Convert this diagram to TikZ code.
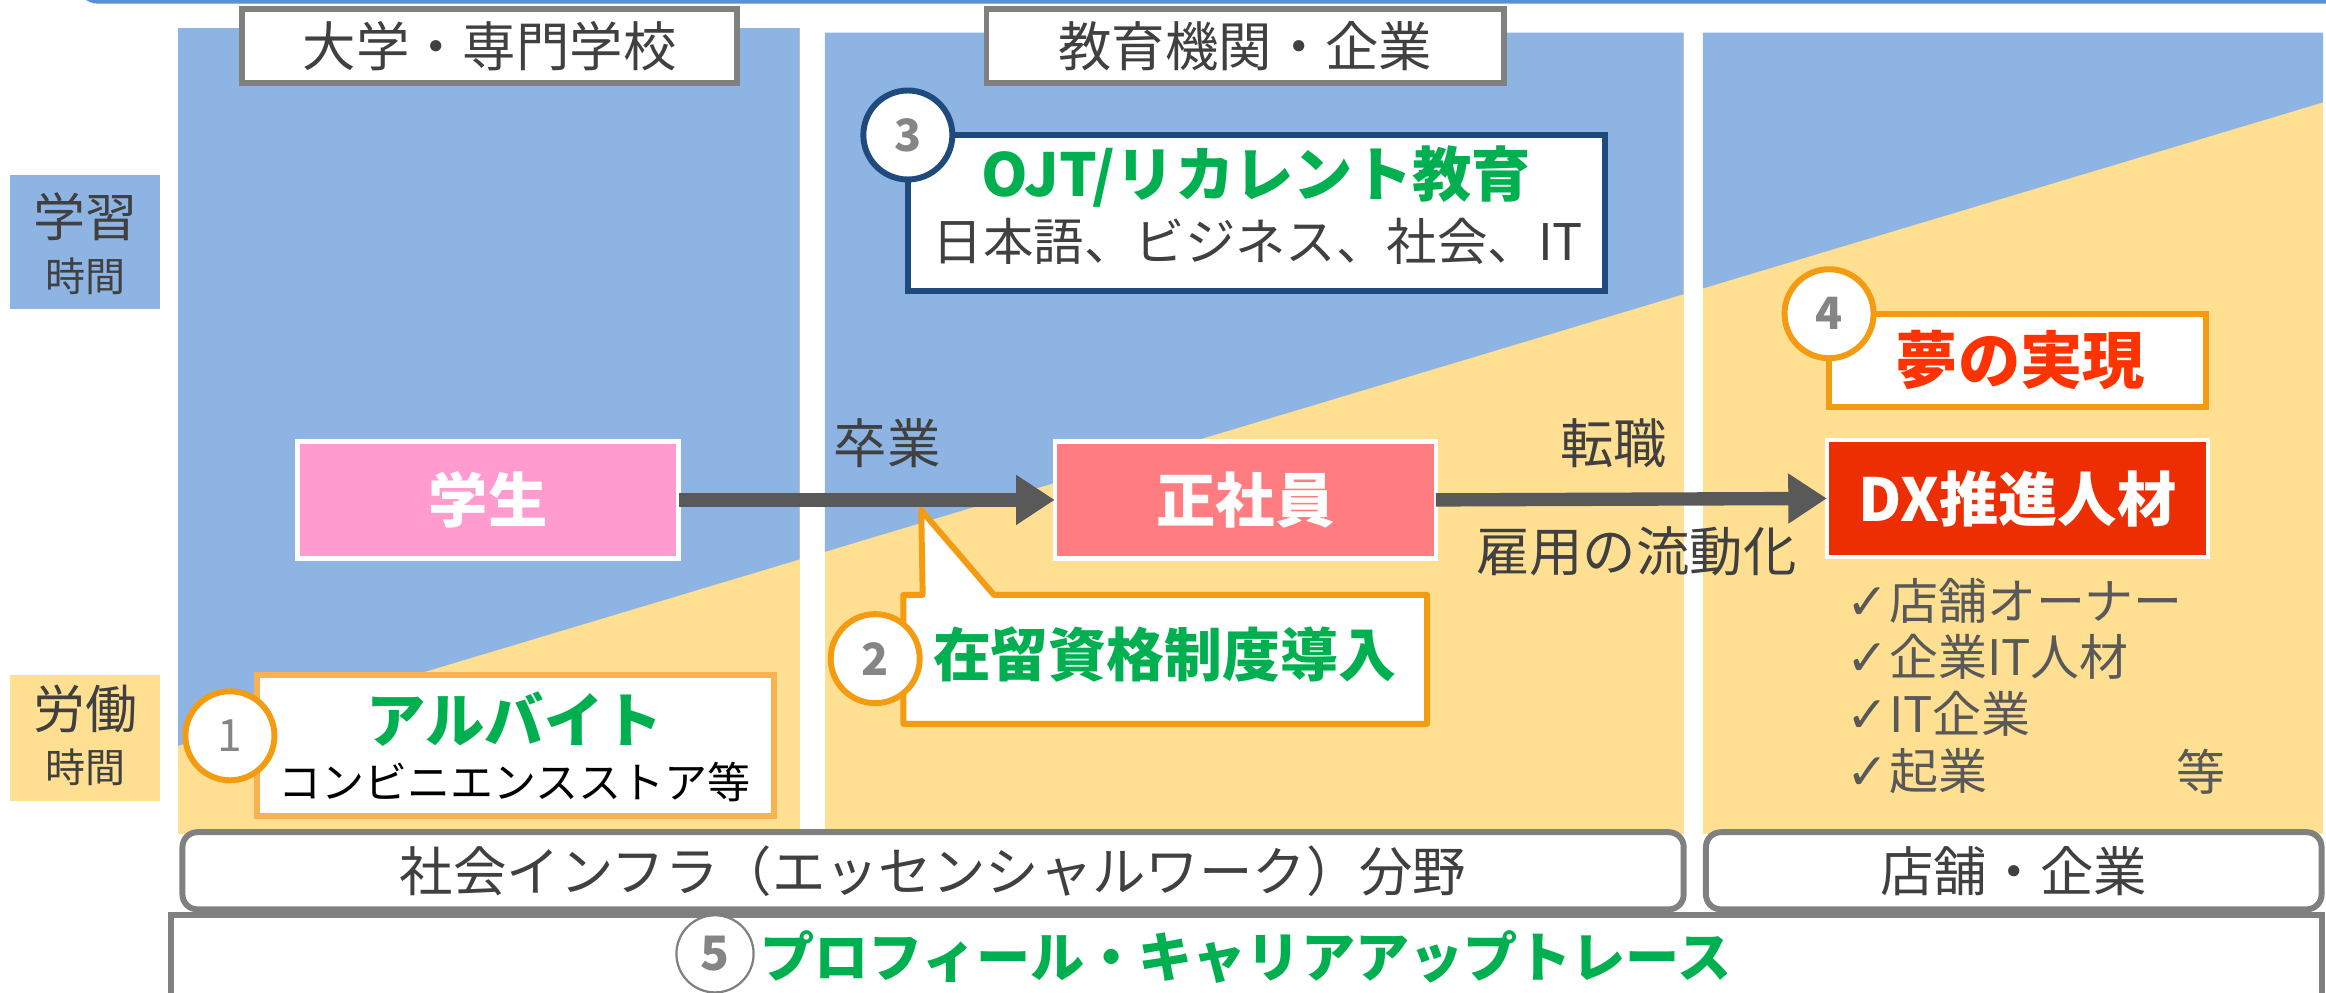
\documentclass[tikz,border=0pt]{standalone}
\usepackage{fontspec}
\setmainfont{Noto Sans CJK JP}
\newfontfamily\symfont{DejaVu Sans}
\usetikzlibrary{arrows.meta}
\definecolor{blu}{HTML}{8EB4E3}
\definecolor{yel}{HTML}{FFDF91}
\definecolor{topblue}{HTML}{5B8FD9}
\definecolor{hgray}{HTML}{808080}
\definecolor{tgray}{HTML}{404040}
\definecolor{cgray}{HTML}{858585}
\definecolor{lgreen}{HTML}{00B050}
\definecolor{orng}{HTML}{F39C12}
\definecolor{lorng}{HTML}{F8B24F}
\definecolor{dblue}{HTML}{1F4A7E}
\definecolor{pinkf}{HTML}{FF9BCF}
\definecolor{salmon}{HTML}{FF7C80}
\definecolor{dxred}{HTML}{EC2E02}
\definecolor{redtxt}{HTML}{FF3300}
\definecolor{agray}{HTML}{595959}
\newcommand{\fsz}[1]{\fontsize{#1}{#1}\selectfont}
\begin{document}
\begin{tikzpicture}[x=1pt,y=-1pt,
  every node/.style={inner sep=0pt, outer sep=0pt},
  hdr/.style={draw=hgray, line width=4pt, fill=white, text=tgray, font=\fsz{36}},
  sidebox/.style={minimum width=101pt},
  mainbox/.style={draw=white, line width=3pt, minimum width=257pt, minimum height=79pt, text=white, font={\bfseries\fsz{40}}},
  numcirc/.style={circle, line width=4pt, fill=white, minimum size=60pt, text=cgray, font={\bfseries\fsz{30}}},
  gtitle/.style={text=lgreen, font={\bfseries\fsz{40}}},
  lab/.style={text=tgray, font=\fsz{36}},
  chk/.style={anchor=west, text=agray, font=\fsz{33}},
  arr/.style={draw=agray, line width=9pt, -{Triangle[length=26pt, width=32pt]}},
  bottombox/.style={draw=hgray, line width=4pt, fill=white, rounded corners=10pt, text=tgray, font=\fsz{36}}
]
\useasboundingbox (0,0) rectangle (1568,669);
\clip (0,0) rectangle (1568,669);

% top strip
\fill[topblue, rounded corners=14pt] (52,-60) rectangle (1640,2.5);

% columns: yellow base and blue upper part
\fill[yel] (120,19) rectangle (539,562);
\fill[blu] (120,19) -- (539,19) -- (539,377.1) -- (120,502.8) -- cycle;
\fill[yel] (556,22) rectangle (1135,562);
\fill[blu] (556,22) -- (1135,22) -- (1135,198.3) -- (556,372) -- cycle;
\fill[yel] (1148,22) rectangle (1566,562);
\fill[blu] (1148,22) -- (1566,22) -- (1566,69) -- (1148,194.4) -- cycle;

% headers
\node[hdr, minimum width=334pt, minimum height=50pt] (h1) at (330,31) {大学・専門学校};
\node[hdr, minimum width=349pt, minimum height=50pt] (h2) at (839.5,31) {教育機関・企業};

% side labels
\node[sidebox, fill=blu, minimum height=90pt] (sl) at (57.5,163) {};
\node[text=tgray, font=\fsz{35}] (slt1) at (57.5,146) {学習};
\node[text=tgray, font=\fsz{27}] (slt2) at (57.5,186) {時間};
\node[sidebox, fill=yel, minimum height=85pt] (sw) at (57.5,497.5) {};
\node[text=tgray, font=\fsz{35}] (swt1) at (57.5,478) {労働};
\node[text=tgray, font=\fsz{27}] (swt2) at (57.5,517) {時間};

% box 3
\node[draw=dblue, line width=4pt, fill=white, minimum width=470pt, minimum height=105pt] (b3) at (847,143.5) {};
\node[numcirc, draw=dblue] (c3) at (b3.north west) {3};
\node[gtitle] (t3a) at (847,119) {OJT/リカレント教育};
\node[text=tgray, font=\fsz{34}] (t3b) at (848,163) {日本語、ビジネス、社会、IT};

% box 4
\node[draw=orng, line width=4pt, fill=white, minimum width=254pt, minimum height=63pt] (b4) at (1360,243) {};
\node[numcirc, draw=orng] (c4) at (b4.north west) {4};
\node[text=redtxt, font={\bfseries\fsz{42}}] (t4) at (1362,243) {夢の実現};

% main nodes
\node[mainbox, fill=pinkf] (s1) at (329,337) {学生};
\node[mainbox, fill=salmon] (s2) at (839.5,337) {正社員};
\node[mainbox, fill=dxred] (s3) at (1360,336) {DX推進人材};

% arrows
\draw[arr] (s1.east) -- (s2.west);
\draw[arr] (s2.east) -- (s3.west);

% labels on arrows
\node[lab] (l1) at (598,299) {卒業};
\node[lab] (l2) at (1088,299) {転職};
\node[lab] (l3) at (1103,372) {雇用の流動化};

% callout 2
\coordinate (tip2) at (621,344);
\draw[orng, line width=4pt, fill=white, line join=round] (609,401) -- (622,401) -- (tip2) -- (670,401) -- (962,401) -- (962,488) -- (609,488) -- cycle;
\node[numcirc, draw=orng] (c2) at (590,444) {2};
\node[gtitle, font={\bfseries\fsz{39}}] (t2) at (785,441) {在留資格制度導入};

% box 1
\node[draw=lorng, line width=4pt, fill=white, minimum width=349pt, minimum height=95pt] (b1) at (347.5,502.5) {};
\node[numcirc, draw=orng] (c1) at (155,496) {\mdseries 1};
\node[gtitle] (t1a) at (347,485) {アルバイト};
\node[text=black, font=\fsz{29}] (t1b) at (347,527) {コンビニエンスストア等};

% check list
\node[chk] (k1) at (1245,405) {{\symfont\fsz{34}✓}店舗オーナー};
\node[chk] (k2) at (1245,443) {{\symfont\fsz{34}✓}企業IT人材};
\node[chk] (k3) at (1245,481) {{\symfont\fsz{34}✓}IT企業};
\node[chk] (k4) at (1245,520) {{\symfont\fsz{34}✓}起業};
\node[text=agray, font=\fsz{33}] (k5) at (1484,520) {等};

% bottom boxes
\node[bottombox, minimum width=1012pt, minimum height=52pt] (f1) at (629,587) {社会インフラ（エッセンシャルワーク）分野};
\node[bottombox, minimum width=415pt, minimum height=52pt] (f2) at (1357.5,587) {店舗・企業};
\node[draw=hgray, line width=4pt, fill=white, minimum width=1450pt, minimum height=100pt, anchor=north west] (f3) at (115,617) {};
\node[circle, draw=hgray, line width=1.5pt, fill=white, minimum size=52pt, text=cgray, font={\bfseries\fsz{32}}] (c5) at (482,643) {5};
\node[gtitle, font={\bfseries\fsz{36.5}}] (t5) at (840,645) {プロフィール・キャリアアップトレース};
\end{tikzpicture}
\end{document}
